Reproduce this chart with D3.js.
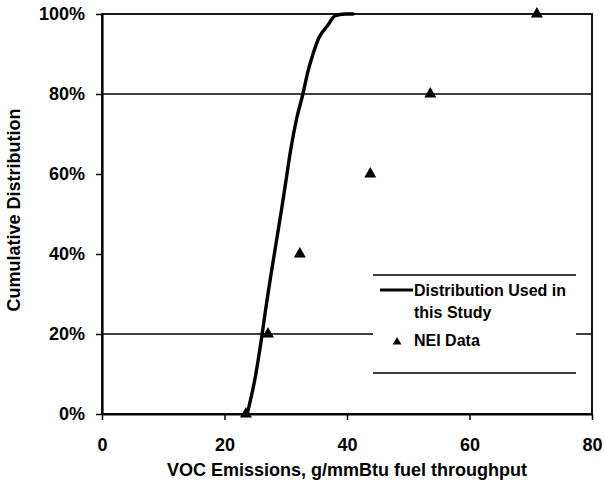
<!DOCTYPE html>
<html>
<head>
<meta charset="utf-8">
<script src="https://cdn.jsdelivr.net/npm/d3@7"></script>
<style>
  html, body { margin: 0; padding: 0; background: #fff; }
  text { font-family: "Liberation Sans", Arial, sans-serif; font-weight: bold; fill: #000; }
</style>
</head>
<body>
<svg id="chart" width="604" height="483"></svg>
<script>
// ---- data ----
const curveX   = [23.7, 25.0, 26.1, 26.7, 27.5, 28.4, 29.3, 30.0, 30.8, 31.8, 32.8, 33.6, 34.4, 35.4, 36.9, 38.0, 39.7, 41.0];
const curvePct = [0, 9, 19.5, 26, 34, 42.5, 51, 58, 66, 74, 80, 85.5, 89.75, 94, 97.25, 99.5, 100, 100];
const neiX     = [23.5, 27.1, 32.3, 43.8, 53.6, 71.0];
const neiPct   = [0, 20, 40, 60, 80, 100];
const xTicks   = [0, 20, 40, 60, 80];
const yTicks   = [0, 20, 40, 60, 80, 100];
const gridPcts = [20, 80];
const xTitle   = "VOC Emissions, g/mmBtu fuel throughput";
const yTitle   = "Cumulative Distribution";
const legendLabels = [["Distribution Used in", "this Study"], ["NEI Data"]];

// ---- layout ----
const svg = d3.select("#chart");
const L = 102, R = 592, T = 14, B = 414;
const x = d3.scaleLinear().domain([0, 80]).range([L, R]);
const y = d3.scaleLinear().domain([0, 100]).range([B, T]);

// gridlines
svg.append("g").selectAll("line").data(gridPcts).join("line")
  .attr("x1", L).attr("x2", R)
  .attr("y1", d => y(d)).attr("y2", d => y(d))
  .attr("stroke", "#000").attr("stroke-width", 1.5);

// frame (top/right)
svg.append("rect").attr("x", L).attr("y", T).attr("width", R - L).attr("height", B - T)
  .attr("fill", "none").attr("stroke", "#000").attr("stroke-width", 1.8);

// axes
const yAxis = d3.axisLeft(y).tickValues(yTicks).tickFormat(d => d + "%")
  .tickSize(6).tickSizeOuter(0).tickPadding(11);
const gy = svg.append("g").attr("transform", `translate(${L},0)`).call(yAxis);
gy.select(".domain").attr("stroke-width", 2.2);
gy.selectAll(".tick line").attr("stroke-width", 1.5);
gy.selectAll("text").attr("font-size", 18).attr("font-family", "'Liberation Sans', Arial, sans-serif")
  .attr("font-weight", "bold").attr("fill", "#000");

const xAxis = d3.axisBottom(x).tickValues(xTicks).tickFormat(d3.format("d"))
  .tickSize(6).tickSizeOuter(0).tickPadding(18);
const gx = svg.append("g").attr("transform", `translate(0,${B})`).call(xAxis);
gx.select(".domain").attr("stroke-width", 2.2);
gx.selectAll(".tick line").attr("stroke-width", 1.5);
gx.selectAll("text").attr("font-size", 18).attr("font-family", "'Liberation Sans', Arial, sans-serif")
  .attr("font-weight", "bold").attr("fill", "#000");

// axis titles
svg.append("text").attr("x", (L + R) / 2).attr("y", 476)
  .attr("text-anchor", "middle").attr("font-size", 18).text(xTitle);
svg.append("text").attr("transform", "translate(20,210) rotate(-90)")
  .attr("text-anchor", "middle").attr("font-size", 18).text(yTitle);

// curve
const curveData = curveX.map((v, i) => [v, curvePct[i]]);
const line = d3.line().x(d => x(d[0])).y(d => y(d[1])).curve(d3.curveMonotoneX);
svg.append("path").datum(curveData).attr("d", line)
  .attr("fill", "none").attr("stroke", "#000").attr("stroke-width", 3.4)
  .attr("stroke-linejoin", "round").attr("stroke-linecap", "round");

// NEI triangles
const tri = d3.symbol().type(d3.symbolTriangle).size(62);
svg.append("g").selectAll("path").data(neiX.map((v, i) => [v, neiPct[i]])).join("path")
  .attr("d", tri)
  .attr("transform", d => `translate(${x(d[0])},${y(d[1])})`)
  .attr("fill", "#000");

// legend
const lg = svg.append("g");
lg.append("rect").attr("x", 373).attr("y", 275).attr("width", 203).attr("height", 98)
  .attr("fill", "#fff");
lg.append("line").attr("x1", 373).attr("x2", 576).attr("y1", 275).attr("y2", 275)
  .attr("stroke", "#000").attr("stroke-width", 1.5);
lg.append("line").attr("x1", 373).attr("x2", 576).attr("y1", 373).attr("y2", 373)
  .attr("stroke", "#000").attr("stroke-width", 1.5);
lg.append("line").attr("x1", 380).attr("x2", 413).attr("y1", 290).attr("y2", 290)
  .attr("stroke", "#000").attr("stroke-width", 3);
lg.append("text").attr("x", 414).attr("y", 296).attr("font-size", 16).text(legendLabels[0][0]);
lg.append("text").attr("x", 414).attr("y", 318).attr("font-size", 16).text(legendLabels[0][1]);
lg.append("path").attr("d", d3.symbol().type(d3.symbolTriangle).size(34))
  .attr("transform", "translate(397,342)").attr("fill", "#000");
lg.append("text").attr("x", 414).attr("y", 346).attr("font-size", 16).text(legendLabels[1][0]);
</script>
</body>
</html>
